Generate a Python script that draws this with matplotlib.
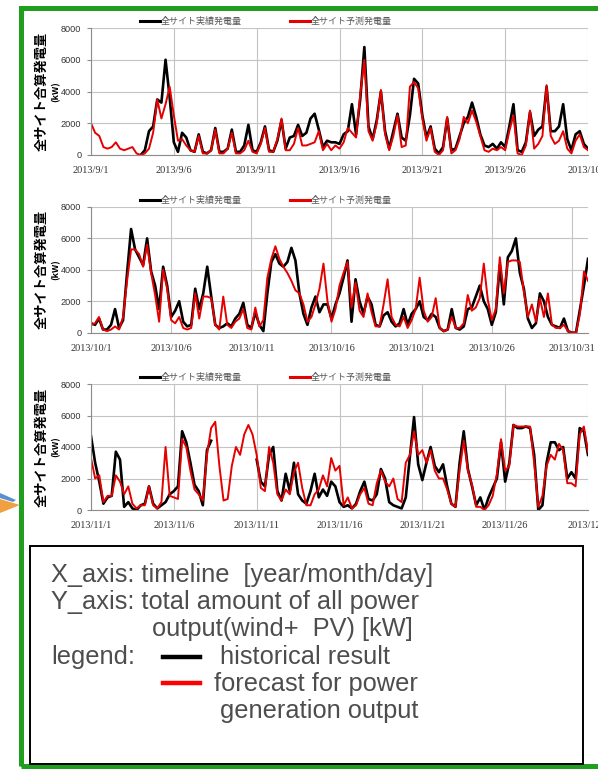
import numpy as np
import matplotlib
matplotlib.use('Agg')
import matplotlib.pyplot as plt
from matplotlib.lines import Line2D
from matplotlib.patches import Rectangle, Polygon

# all-site power output [kW], 6-hourly (00h, 06h, 12h, 18h), one row per day,
# the last value closes the month. None = no record.
sep_actual = [
    None, None, None, None,
    None, None, None, None,
    None, None, None, None,
    0, 300, 1500, 1800,
    3500, 3300, 6000, 3600,
    800, 200, 1400, 1100,
    300, 200, 1300, 200,
    100, 300, 1700, 200,
    200, 400, 1600, 200,
    200, 600, 1900, 300,
    200, 800, 1800, 300,
    200, 900, 2200, 400,
    1100, 1200, 1900, 1200,
    1400, 2300, 2600, 1600,
    500, 900, 800, 800,
    700, 1300, 1500, 3200,
    1300, 3500, 6800, 1800,
    1000, 2200, 4000, 1500,
    400, 1500, 2600, 1100,
    900, 2500, 4800, 4500,
    2500, 1100, 1800, 400,
    100, 500, 2300, 300,
    400, 1200, 2000, 2400,
    3300, 2400, 1300, 600,
    500, 700, 400, 800,
    500, 1800, 3200, 300,
    200, 800, 2700, 1200,
    1600, 1800, 4300, 1500,
    1500, 1800, 3200, 1000,
    300, 1300, 1500, 700,
    400,
]
sep_forecast = [
    2000, 1400, 1200, 500,
    400, 500, 800, 400,
    300, 400, 500, 100,
    0, 100, 400, 1400,
    3500, 2300, 3200, 4300,
    2500, 900, 1000, 600,
    300, 200, 1200, 100,
    100, 300, 1600, 100,
    100, 400, 1400, 100,
    100, 300, 900, 200,
    100, 700, 1700, 200,
    200, 1000, 2300, 300,
    300, 700, 1700, 600,
    600, 700, 800, 1500,
    300, 700, 300, 600,
    400, 800, 1700, 1400,
    1100, 3800, 6000, 1500,
    900, 2000, 4100, 1300,
    300, 1200, 2500, 500,
    600, 4300, 4600, 4200,
    2300, 900, 1700, 200,
    0, 300, 2400, 100,
    300, 1000, 2400, 2000,
    2800, 2100, 1200, 300,
    200, 400, 300, 500,
    300, 1500, 2500, 100,
    0, 600, 2800, 400,
    700, 1200, 4400, 1200,
    700, 900, 1500, 400,
    100, 900, 1300, 500,
    300,
]
oct_actual = [
    600, 500, 900, 200,
    200, 500, 1500, 300,
    800, 3800, 6600, 5300,
    4800, 4300, 6000, 3900,
    3000, 1500, 4200, 3000,
    1000, 1400, 2000, 700,
    400, 500, 2800, 1500,
    2500, 4200, 2300, 500,
    300, 400, 600, 400,
    900, 1200, 1900, 500,
    300, 1300, 500, 100,
    2500, 4500, 5000, 4400,
    4200, 4500, 5400, 4600,
    2500, 1200, 500, 1600,
    2300, 1300, 1800, 1800,
    900, 1800, 2500, 3500,
    4600, 700, 3400, 2000,
    1200, 2300, 1800, 500,
    400, 1100, 1300, 700,
    400, 600, 1500, 500,
    1200, 1500, 2000, 1000,
    800, 1200, 1000, 300,
    100, 200, 1500, 300,
    200, 400, 1500, 1600,
    2300, 3000, 2000, 1500,
    500, 1300, 4300, 1800,
    4800, 5200, 6000, 3800,
    2800, 900, 300, 600,
    2500, 2000, 1000, 500,
    400, 300, 900, 100,
    0, 0, 1500, 3000,
    4700,
]
oct_forecast = [
    500, 600, 1000, 200,
    100, 200, 400, 200,
    1000, 3300, 5300, 5300,
    5000, 4200, 5600, 3800,
    2400, 700, 4000, 2800,
    800, 600, 1000, 300,
    200, 300, 2500, 900,
    2300, 2300, 2200, 500,
    200, 2300, 500, 300,
    700, 900, 1500, 300,
    200, 1600, 400, 800,
    3500, 4700, 5500, 4700,
    4200, 3800, 3300, 2700,
    2500, 1800, 700, 1000,
    1800, 2800, 4400, 2000,
    700, 1500, 3000, 3800,
    4500, 1600, 3200, 1400,
    1000, 2500, 1300, 400,
    400, 1800, 3400, 1000,
    500, 400, 1000, 300,
    800, 1500, 3500, 1400,
    700, 1000, 2200, 300,
    100, 200, 1000, 300,
    300, 600, 2400, 1400,
    1600, 2200, 4400, 2100,
    800, 1500, 4800, 2500,
    4500, 4600, 4600, 4500,
    2600, 1000, 1800, 700,
    2200, 1000, 2500, 500,
    300, 300, 500, 100,
    0, 0, 1200, 3900,
    3300,
]
nov_actual = [
    4700, 3000, 1800, 400,
    800, 900, 3700, 3200,
    200, 500, 100, 0,
    300, 400, 1500, 400,
    100, 300, 500, 1000,
    1200, 1500, 5000, 4300,
    3000, 1600, 1200, 300,
    3800, 4400, None, None,
    None, None, None, None,
    None, None, None, None,
    3200, 1800, 1500, 3500,
    4000, 1200, 600, 2300,
    1200, 3000, 1000, 600,
    400, 1200, 2300, 800,
    1300, 900, 1800, 1500,
    500, 200, 300, 100,
    400, 1200, 1800, 700,
    600, 1000, 2600, 2000,
    500, 300, 200, 100,
    800, 3400, 5900, 2900,
    1900, 3000, 4000, 2800,
    2400, 2900, 1500, 400,
    200, 3000, 5000, 2600,
    1500, 300, 800, 0,
    800, 1400, 2000, 4300,
    1800, 3000, 5400, 5200,
    5200, 5300, 5200, 3500,
    0, 300, 3000, 4300,
    4300, 3800, 4000, 2000,
    2400, 2000, 5200, 5000,
    3500,
]
nov_forecast = [
    3300, 2000, 2200, 500,
    900, 900, 2200, 1800,
    1000, 1500, 400, 100,
    300, 300, 1500, 300,
    100, 500, 4000, 900,
    800, 700, 4500, 4000,
    2500, 1300, 1000, 600,
    3500, 5200, 5600, 2800,
    600, 700, 2800, 4000,
    3500, 4800, 5400, 4800,
    3500, 1400, 1200, 4000,
    3000, 1000, 600, 1300,
    1000, 2400, 3000, 1400,
    300, 300, 1000, 1300,
    2200, 1500, 3300, 2500,
    2800, 300, 800, 100,
    300, 1000, 1400, 400,
    300, 1700, 2500, 1800,
    1500, 2000, 700, 500,
    3000, 3500, 5000, 3500,
    3800, 3000, 3800, 2500,
    2000, 2000, 1300, 400,
    200, 2500, 4400, 2500,
    1600, 200, 200, 0,
    300, 900, 2300, 4500,
    2500, 2800, 5400, 5300,
    5300, 5300, 5300, 3000,
    200, 900, 2800, 3500,
    3200, 4200, 3800, 1700,
    1700, 1500, 4800, 5300,
    3700,
]

sep_ticks = ['2013/9/1', '2013/9/6', '2013/9/11', '2013/9/16', '2013/9/21', '2013/9/26', '2013/10/1']
oct_ticks = ['2013/10/1', '2013/10/6', '2013/10/11', '2013/10/16', '2013/10/21', '2013/10/26', '2013/10/31']
nov_ticks = ['2013/11/1', '2013/11/6', '2013/11/11', '2013/11/16', '2013/11/21', '2013/11/26', '2013/12/1']

legend_labels = ['全サイト実績発電量', '全サイト予測発電量']
ylabel = '全サイト合算発電量'

note_lines = [
    'X_axis: timeline  [year/month/day]',
    'Y_axis: total amount of all power',
    'output(wind+  PV) [kW]',
    'legend:',
    'historical result',
    'forecast for power',
    'generation output',
]

JP = ['Noto Sans CJK JP', 'DejaVu Sans']
W, H = 598, 771


def fx(px):
    return px / W


def fy(py):
    return 1 - py / H


def draw_panel(fig, actual, forecast, ticks, ndays, top, bottom):
    ax = fig.add_axes([fx(91), fy(bottom), fx(588) - fx(91), fy(top) - fy(bottom)])
    a = np.array(actual, dtype=float)
    f = np.array(forecast, dtype=float)
    t = np.arange(len(a)) / 4.0
    ax.plot(t, a, color='black', lw=1.9, solid_joinstyle='round')
    ax.plot(t, f, color='#e60000', lw=1.4, solid_joinstyle='round')
    ax.set_xlim(0, ndays)
    ax.set_ylim(0, 8000)
    ax.set_xticks(np.arange(0, 31, 5))
    ax.set_xticklabels(ticks, fontfamily='Liberation Serif', fontsize=7.4, color='#333333')
    ax.set_yticks(np.arange(0, 8001, 2000))
    ax.set_yticklabels([str(v) for v in range(0, 8001, 2000)],
                       fontfamily='Liberation Sans', fontsize=6.6, color='#333333')
    ax.tick_params(axis='x', length=0, pad=8)
    ax.tick_params(axis='y', length=3, color='#8c8c8c', pad=4)
    ax.grid(True, color='#c4c4c4', lw=0.8)
    ax.set_axisbelow(True)
    for s in ['top', 'right']:
        ax.spines[s].set_visible(False)
    for s in ['left', 'bottom']:
        ax.spines[s].set_color('#8c8c8c')
        ax.spines[s].set_linewidth(0.8)

    ax.text(-0.0986, 0.5, ylabel, rotation=90, ha='center', va='center',
            transform=ax.transAxes, fontsize=9.5, fontweight='bold', family=JP)
    ax.text(-0.0714, 0.5, '(kW)', rotation=90, ha='center', va='center',
            transform=ax.transAxes, fontsize=6.5, fontweight='bold', family=JP)

    handles = [Line2D([], [], color='black', lw=2.2), Line2D([], [], color='#e60000', lw=2.2)]
    leg = ax.legend(handles, legend_labels, loc='center', bbox_to_anchor=(0.352, 1.05),
                    ncol=2, frameon=False, handlelength=2.2, handletextpad=0.1,
                    columnspacing=5.3, borderpad=0, borderaxespad=0,
                    prop={'family': JP, 'size': 6.5})
    for txt in leg.get_texts():
        txt.set_color('#595959')
    return ax


def main():
    fig = plt.figure(figsize=(W / 100, H / 100), dpi=100)

    draw_panel(fig, sep_actual, sep_forecast, sep_ticks, 30, 28, 155)
    draw_panel(fig, oct_actual, oct_forecast, oct_ticks, 31, 207, 332.7)
    draw_panel(fig, nov_actual, nov_forecast, nov_ticks, 30, 384, 510)

    # green frame round the whole slide
    fig.patches.append(Rectangle((fx(20.5), fy(766)), fx(640) - fx(20.5), fy(7.5) - fy(766),
                                 transform=fig.transFigure, fill=False,
                                 edgecolor='#1f9e1f', lw=3.6))
    # little arrow on the left edge
    fig.patches.append(Polygon([(fx(0), fy(493)), (fx(16), fy(500)), (fx(13), fy(502)), (fx(0), fy(498))],
                               closed=True, transform=fig.transFigure, color='#5b8fd0', lw=0))
    fig.patches.append(Polygon([(fx(0), fy(499)), (fx(20), fy(505)), (fx(0), fy(513))],
                               closed=True, transform=fig.transFigure, color='#f0a040', lw=0))

    # explanation box
    fig.patches.append(Rectangle((fx(30), fy(764)), fx(583) - fx(30), fy(546) - fy(764),
                                 transform=fig.transFigure, fill=False,
                                 edgecolor='black', lw=1.4))
    kw = dict(fontfamily='Liberation Sans', fontsize=18.3, color='#4d4d4d', va='center', ha='left')
    fig.text(fx(51), fy(575), note_lines[0], **kw)
    fig.text(fx(51), fy(602), note_lines[1], **kw)
    fig.text(fx(152), fy(629), note_lines[2], **kw)
    fig.text(fx(51), fy(657), note_lines[3], **kw)
    fig.text(fx(220), fy(657), note_lines[4], **kw)
    fig.text(fx(214), fy(684), note_lines[5], **kw)
    fig.text(fx(220), fy(711), note_lines[6], **kw)
    fig.lines.append(Line2D([fx(163), fx(200)], [fy(657), fy(657)], transform=fig.transFigure,
                            color='black', lw=3.2))
    fig.lines.append(Line2D([fx(163), fx(200)], [fy(683), fy(683)], transform=fig.transFigure,
                            color='#ff0000', lw=3.2))

    fig.savefig('out.png', dpi=100)


if __name__ == '__main__':
    main()
